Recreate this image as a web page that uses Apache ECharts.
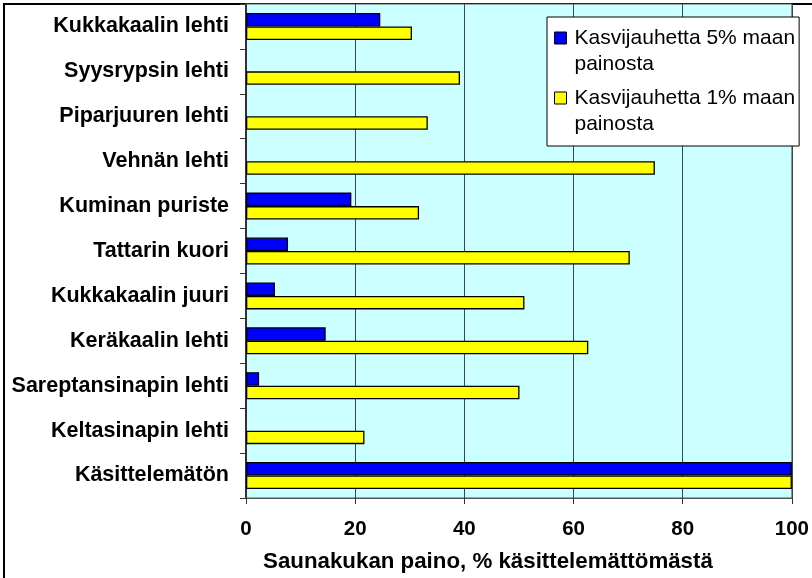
<!DOCTYPE html>
<html>
<head>
<meta charset="utf-8">
<script src="https://cdn.jsdelivr.net/npm/echarts@6/dist/echarts.min.js"></script>
<style>
html,body{margin:0;padding:0;background:#fff;}
#chart{width:812px;height:578px;}
</style>
</head>
<body>
<div id="chart"></div>
<script>
const categories = ['Kukkakaalin lehti','Syysrypsin lehti','Piparjuuren lehti','Vehnän lehti','Kuminan puriste','Tattarin kuori','Kukkakaalin juuri','Keräkaalin lehti','Sareptansinapin lehti','Keltasinapin lehti','Käsittelemätön'];
const seriesNames = ['Kasvijauhetta 5% maan painosta','Kasvijauhetta 1% maan painosta'];
const values5 = [24.6, null, null, null, 19.3, 7.7, 5.3, 14.6, 2.4, null, 100];
const values1 = [30.4, 39.2, 33.3, 74.9, 31.7, 70.3, 51.0, 62.7, 50.1, 21.7, 100];
const xTicks = [0, 20, 40, 60, 80, 100];
const xTitle = 'Saunakukan paino, % käsittelemättömästä';

const chart = echarts.init(document.getElementById('chart'), null, {renderer:'canvas'});
const FONT = '"Liberation Sans", Arial, sans-serif';
const legendIcon = 'path://M0,0H12V12H0Z M15,38';
chart.setOption({
  animation:false,
  backgroundColor:'#fff',
  graphic:[{
    type:'rect', z:-10, silent:true,
    shape:{x:4,y:4,width:1000,height:1000},
    style:{fill:'none',stroke:'#000',lineWidth:2}
  }],
  grid:{left:246,right:17,top:4,bottom:77,show:true,backgroundColor:'#CCFFFF',borderColor:'#555',borderWidth:1},
  legend:{
    orient:'vertical', left:547, top:17,
    backgroundColor:'#fff', borderColor:'#000', borderWidth:1,
    padding:[8,4,9,7], itemGap:8,
    itemWidth:15, itemHeight:38,
    icon:legendIcon,
    itemStyle:{borderColor:'#000',borderWidth:1},
    textStyle:{fontFamily:FONT,fontSize:21,lineHeight:26,color:'#000'},
    formatter:function(n){return n.replace(' painosta','\npainosta');},
    data:seriesNames
  },
  xAxis:{
    type:'value', min:0, max:100, interval:20,
    name:xTitle, nameLocation:'middle', nameGap:53,
    nameTextStyle:{fontFamily:FONT,fontSize:22.3,fontWeight:'bold',color:'#000',padding:[0,62,0,0]},
    axisLine:{show:true,lineStyle:{color:'#555',width:1}},
    axisTick:{show:true,length:6,lineStyle:{color:'#333'}},
    axisLabel:{fontFamily:FONT,fontSize:20.5,fontWeight:'bold',color:'#000',margin:21,
      formatter:function(v){return xTicks.indexOf(v)>=0?String(v):'';}},
    splitLine:{show:true,lineStyle:{color:'#3a4a4a',width:1}}
  },
  yAxis:{
    type:'category', data:categories, inverse:true,
    axisLine:{show:true,lineStyle:{color:'#333',width:2}},
    axisTick:{show:true,length:6,lineStyle:{color:'#333'}},
    axisLabel:{fontFamily:FONT,fontSize:21.5,fontWeight:'bold',color:'#000',margin:17},
    splitLine:{show:false}
  },
  series:[
    {name:seriesNames[0],type:'bar',data:values5,barWidth:13.5,barGap:'0%',
     itemStyle:{color:'#0000FF',borderColor:'#000',borderWidth:1.3}},
    {name:seriesNames[1],type:'bar',data:values1,barWidth:13.5,barGap:'0%',
     itemStyle:{color:'#FFFF00',borderColor:'#000',borderWidth:1.3}}
  ]
});
</script>
</body>
</html>
